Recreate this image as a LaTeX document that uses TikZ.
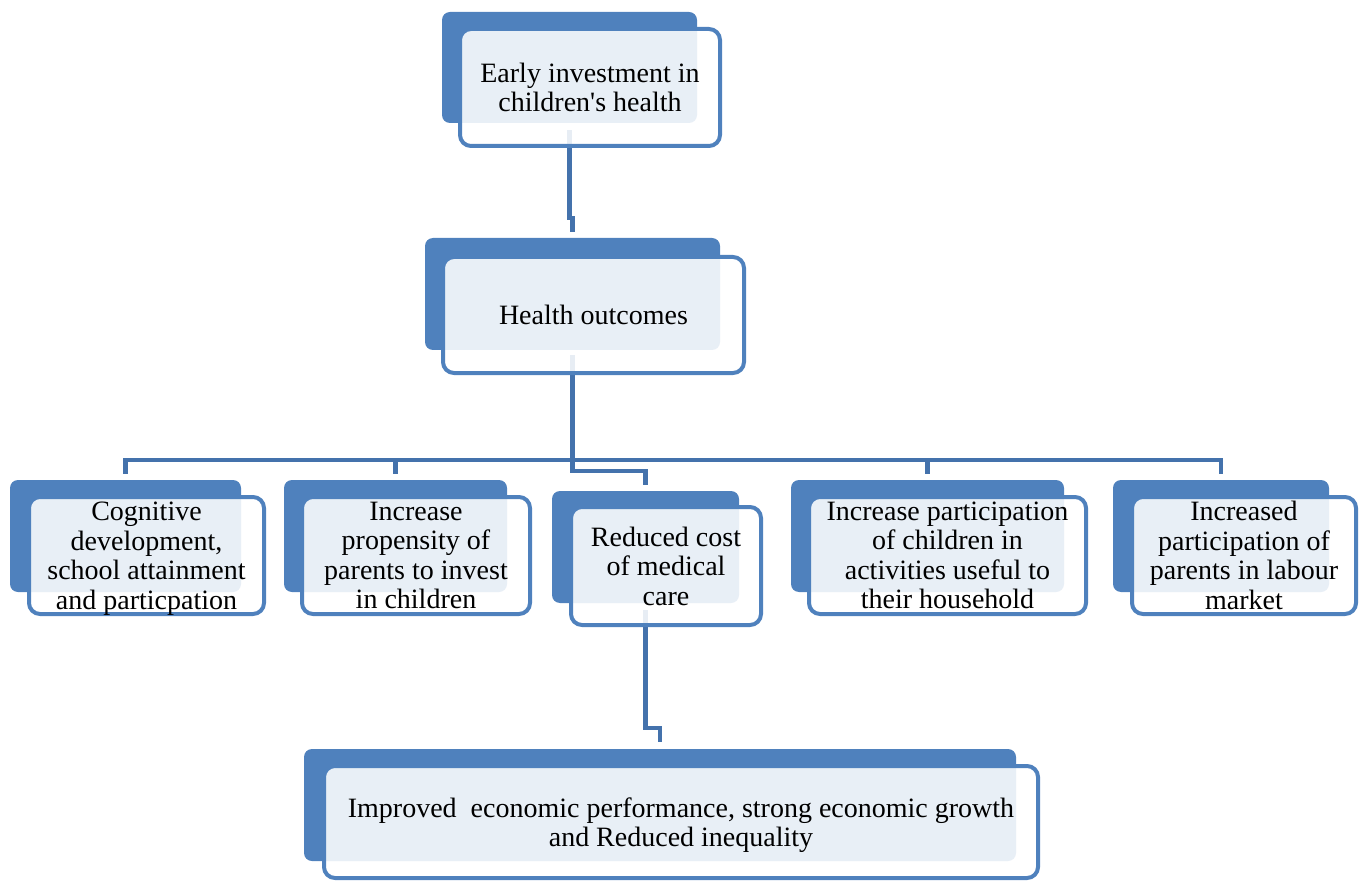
\documentclass[tikz,border=0pt]{standalone}
\usepackage{fontspec}
\setmainfont{Liberation Serif}
\newfontfamily\boxfont{Liberation Serif}
\definecolor{boxblue}{RGB}{79,129,189}
\definecolor{linkblue}{RGB}{68,114,172}
\tikzset{
  backbox/.style={fill=boxblue,rounded corners=8pt,inner sep=0pt},
  frontbox/.style={draw=boxblue,line width=4pt,fill=white,fill opacity=0.875,text opacity=1,
    rounded corners=11pt,inner sep=0pt,align=center,font=\boxfont\fontsize{28}{29.5}\selectfont},
  link/.style={draw=linkblue,line width=4.5pt}
}
\begin{document}
\begin{tikzpicture}[x=1pt,y=-1pt]
\useasboundingbox (0,0) rectangle (1362,882);
% back boxes
\node[backbox,minimum width=255pt,minimum height=111pt] (invb) at (569.5,67.5) {};
\node[backbox,minimum width=295pt,minimum height=112pt] (heab) at (572.5,294) {};
\node[backbox,minimum width=231pt,minimum height=112pt] (cogb) at (125.5,536) {};
\node[backbox,minimum width=223pt,minimum height=112pt] (prob) at (395.5,536) {};
\node[backbox,minimum width=187pt,minimum height=112pt] (costb) at (645.5,547) {};
\node[backbox,minimum width=273pt,minimum height=112pt] (chib) at (927.5,536) {};
\node[backbox,minimum width=216pt,minimum height=112pt] (labb) at (1221,536) {};
\node[backbox,minimum width=712pt,minimum height=112pt] (ecob) at (660,805) {};
% connectors
\draw[link] ([yshift=-7pt]invb.south) |- ([yshift=20pt]heab.north) -- ([yshift=6pt]heab.north);
\foreach \t in {cogb,prob,costb,chib,labb}
  \draw[link] ([yshift=-5pt]heab.south) |- ([yshift=20pt]\t.north) -- ([yshift=6pt]\t.north);
\draw[link] ([yshift=-7pt]costb.south) |- ([yshift=21pt]ecob.north) -- ([yshift=7pt]ecob.north);
% front boxes
\node[frontbox,minimum width=260pt,minimum height=117pt] (inv) at (590,87.5) {Early investment in\\children\textquotesingle s health};
\node[frontbox,minimum width=301pt,minimum height=116pt] (hea) at (593.5,315) {Health outcomes};
\node[frontbox,minimum width=235pt,minimum height=117pt,text depth=-5pt] (cog) at (146.5,555.5) {Cognitive\\development,\\school attainment\\and particpation};
\node[frontbox,minimum width=228pt,minimum height=117pt] (pro) at (416,555.5) {Increase\\propensity of\\parents to invest\\in children};
\node[frontbox,minimum width=190pt,minimum height=118pt] (cost) at (666,566) {Reduced cost\\of medical\\care};
\node[frontbox,minimum width=277pt,minimum height=117pt] (chi) at (947.5,555.5) {Increase participation\\of children in\\activities useful to\\their household};
\node[frontbox,minimum width=224pt,minimum height=117pt] (lab) at (1244,555.5) {Increased\\participation of\\parents in labour\\market};
\node[frontbox,minimum width=714pt,minimum height=112pt,text depth=-4pt] (eco) at (681,822) {Improved~ economic performance, strong economic growth\\and Reduced inequality};
\end{tikzpicture}
\end{document}
